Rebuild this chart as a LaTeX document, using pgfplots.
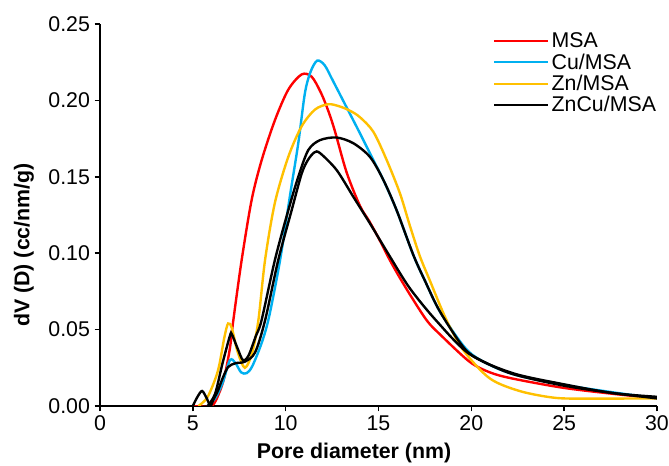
\documentclass[border=0pt]{standalone}
\usepackage{fontspec}
\setmainfont{Liberation Sans}
\usepackage{pgfplots}
\pgfplotsset{compat=1.18}
\definecolor{msaRed}{HTML}{FF0000}
\definecolor{cuBlue}{HTML}{00B0F0}
\definecolor{znGold}{HTML}{FFC000}

\begin{document}
\begin{tikzpicture}
\useasboundingbox (-75pt,-45pt) rectangle (426.75pt,304.5pt);
\begin{axis}[
  at={(0,0)}, anchor=south west,
  scale only axis,
  width=417.75pt, height=286.5pt,
  xmin=0, xmax=30, ymin=0, ymax=0.25,
  axis lines=left,
  axis line style={-, line width=1.1pt},
  xtick={0,5,...,30},
  ytick={0,0.05,...,0.25},
  tick align=outside,
  major tick length=4pt,
  tick style={line width=1.1pt, black},
  font=\fontsize{16}{19}\selectfont,
  /pgf/number format/assume math mode=true,
  yticklabel style={/pgf/number format/.cd, fixed, fixed zerofill, precision=2},
  xlabel={\textbf{Pore diameter (nm)}},
  ylabel={\textbf{dV (D) (cc/nm/g)}},
  every axis x label/.style={at={(axis description cs:0.456,0)}, yshift=-35pt, anchor=center},
  every axis y label/.style={at={(axis description cs:0,0.4215)}, xshift=-57pt, rotate=90, anchor=center},
  legend style={draw=none, fill=none, at={(axis description cs:0.7056,0.985)}, anchor=north west,
                inner sep=0pt, row sep=-1pt, nodes={inner sep=2pt}},
  legend cell align=left,
  legend image code/.code={\draw[#1, line width=1.8pt] (0pt,0pt) -- (40pt,0pt);},
  every axis plot/.append style={line width=1.8pt, smooth, tension=0.5},
]
% MSA
\addplot[msaRed] coordinates {
  (5,0) (6,0) (6.4,0.008) (6.7,0.019) (7.0,0.038) (7.18,0.056) (7.63,0.0955) (8.17,0.135)
  (8.71,0.161) (9.42,0.187) (10.14,0.207) (10.86,0.217) (11.4,0.2155) (11.9,0.205)
  (12.3,0.193) (12.65,0.180) (13.28,0.153) (14.0,0.131) (14.5,0.121) (15.0,0.110)
  (15.5,0.098) (16.0,0.087) (16.69,0.073) (17.6,0.056) (18.3,0.047) (19.9,0.029)
  (21,0.022) (22.2,0.018) (24.9,0.012) (27.6,0.008) (30,0.005)
};
\addlegendentry{MSA}
% Cu/MSA
\addplot[cuBlue] coordinates {
  (5.8,0) (6.2,0.005) (6.6,0.015) (7.0,0.030) (7.3,0.028) (7.6,0.022) (7.9,0.0215)
  (8.2,0.026) (8.7,0.041) (9.1,0.058) (9.7,0.0955) (10.25,0.139) (10.68,0.172)
  (11.04,0.205) (11.35,0.219) (11.7,0.226) (12.1,0.223) (12.56,0.2125) (13.28,0.1955)
  (14.0,0.1785) (14.72,0.161) (15.26,0.148) (15.98,0.128) (16.87,0.099) (17.5,0.082)
  (18.3,0.062) (19.6,0.039) (20.5,0.030) (22.2,0.021) (24.9,0.014) (27.6,0.009) (30,0.005)
};
\addlegendentry{Cu/MSA}
% Zn/MSA
\addplot[znGold] coordinates {
  (5.3,0) (5.8,0.006) (6.35,0.023) (6.7,0.045) (6.9,0.054) (7.1,0.051) (7.4,0.036)
  (7.8,0.025) (8.2,0.035) (8.53,0.056) (8.89,0.0955) (9.42,0.133) (10.14,0.163)
  (10.86,0.183) (11.58,0.194) (12.3,0.1975) (12.92,0.196) (13.5,0.193) (14.0,0.189)
  (14.72,0.1795) (15.44,0.161) (16.16,0.139) (16.69,0.118) (17.23,0.098) (17.77,0.082)
  (18.67,0.056) (19.6,0.036) (21.0,0.018) (22.6,0.0098) (24.4,0.0055) (26,0.0048) (30,0.005)
};
\addlegendentry{Zn/MSA}
% ZnCu/MSA
\addplot[black] coordinates {
  (5.8,0) (6.2,0.008) (6.6,0.028) (7.0,0.046) (7.1,0.047) (7.4,0.038) (7.7,0.030)
  (8.0,0.033) (8.4,0.046) (8.7,0.056) (9.42,0.0955) (10.14,0.128) (10.68,0.150)
  (11.22,0.1675) (11.85,0.174) (12.74,0.1757) (13.64,0.172) (14.54,0.163) (15.26,0.148)
  (15.98,0.128) (16.87,0.099) (17.5,0.082) (18.3,0.062) (19.6,0.038) (20.5,0.030)
  (22.2,0.021) (24.9,0.0135) (27.6,0.0085) (30,0.005)
};
\addlegendentry{ZnCu/MSA}
% second black curve (not in legend)
\addplot[black, forget plot] coordinates {
  (5.0,0) (5.25,0.006) (5.5,0.0098) (5.75,0.005) (5.95,0) (6.1,0.004) (6.35,0.010)
  (6.6,0.018) (6.9,0.0255) (7.3,0.028) (7.8,0.029) (8.35,0.035) (8.89,0.056)
  (9.6,0.0955) (10.32,0.128) (10.86,0.152) (11.2,0.161) (11.55,0.166) (11.85,0.1655)
  (12.74,0.1545) (13.64,0.137) (14.54,0.1195) (15.62,0.0977) (16.69,0.077) (18.1,0.056)
  (19.9,0.034) (22.2,0.0216) (24.9,0.0144) (27.6,0.0085) (30,0.006)
};
\end{axis}
\end{tikzpicture}
\end{document}
